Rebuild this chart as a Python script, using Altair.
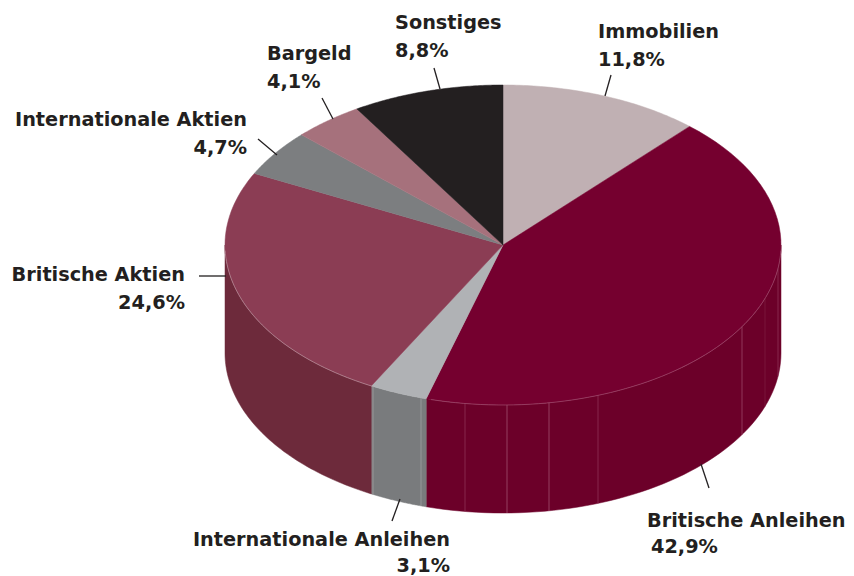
import math
import altair as alt

# Chart values (drawn slice sizes; labels carry the printed figures)
names = ["Immobilien", "Britische Anleihen", "Internationale Anleihen", "Britische Aktien",
         "Internationale Aktien", "Bargeld", "Sonstiges"]
shares = [11.7, 42.7, 3.4, 24.5, 4.7, 4.1, 8.8]
top_colors = ["#c0b0b3", "#75002f", "#b0b2b5", "#8b3d54", "#7c7e80", "#a6717c", "#231f20"]
side_colors = ["#c0b0b3", "#6c0029", "#797b7d", "#6d2a3b", "#7c7e80", "#a6717c", "#231f20"]

# Layout (pixels on the page, relative to the pie centre once CX/CY are removed)
CX, CY, RX, RY, DEPTH = 503, 245, 278, 160, 108
facet_xs = [373, 421, 465, 507, 549, 598, 742, 765, 778]
facet_colors = ["#a9a0a3", "#a3a5a7", "#93385c", "#a8597a", "#a8597a", "#93385c", "#a04e70", "#7f1c44", "#93385c"]
leaders = [((605, 96), (611, 75)), ((440, 89), (434, 68)), ((333, 119), (322, 98)),
           ((277, 155), (258, 139)), ((226, 276), (199, 276)), ((400, 499), (392, 521)),
           ((701, 464), (709, 488))]
label_layout = {
    "left": [("Immobilien", 598, 38), ("11,8%", 598, 66), ("Sonstiges", 395, 29), ("8,8%", 395, 57),
             ("Bargeld", 267, 60), ("4,1%", 267, 88), ("Britische Anleihen", 647, 527), ("42,9%", 651, 553)],
    "right": [("Internationale Aktien", 247, 126), ("4,7%", 247, 154), ("Britische Aktien", 185, 281),
              ("24,6%", 185, 309), ("Internationale Anleihen", 450, 546), ("3,1%", 450, 572)],
}
FONT = "DejaVu Sans"
FONT_SIZE = 19.3


def pt(t, dy=0):
    return [RX * math.sin(t), -RY * math.cos(t) + dy]


def feature(geom_type, coords, color):
    return {"type": "Feature", "properties": {"color": color},
            "geometry": {"type": geom_type, "coordinates": coords}}


def arc(t1, t2, dy=0, n=60):
    return [pt(t1 + (t2 - t1) * i / n, dy) for i in range(n + 1)]


polys_side, polys_top = [], []
edges = [0.0]
for s in shares:
    edges.append(edges[-1] + s)
total = edges[-1]
for i, (a, b) in enumerate(zip(edges[:-1], edges[1:])):
    t1, t2 = a / total * 2 * math.pi, b / total * 2 * math.pi
    polys_top.append(feature("Polygon", [[[0, 0]] + arc(t1, t2) + [[0, 0]]], top_colors[i]))
    v1, v2 = max(t1, math.pi / 2), min(t2, 3 * math.pi / 2)
    if v1 < v2:
        ring = arc(v1, v2) + arc(v2, v1, DEPTH)
        ring.append(ring[0])
        polys_side.append(feature("Polygon", [ring], side_colors[i]))

lines = []
for x, c in zip(facet_xs, facet_colors):
    dx = x - CX
    y = RY * math.sqrt(1 - (dx / RX) ** 2)
    lines.append(feature("LineString", [[dx, y], [dx, y + DEPTH]], c))
lines.append(feature("LineString", arc(math.radians(92), math.radians(195)), "#a04e70"))
lines.append(feature("LineString", arc(math.radians(208), math.radians(268)), "#b9909c"))
thin = lines
leader_lines = [feature("LineString", [[p[0] - CX, p[1] - CY], [q[0] - CX, q[1] - CY]], "#231f20")
                for p, q in leaders]

fill = alt.Fill("properties.color:N", scale=None, legend=None)
stroke = alt.Stroke("properties.color:N", scale=None, legend=None)


def shapes(feats, width, filled=True):
    mark = alt.Chart(alt.Data(values=feats)).mark_geoshape(filled=filled, strokeWidth=width)
    return mark.encode(stroke=stroke, fill=fill) if filled else mark.encode(stroke=stroke)


layers = [shapes(polys_side, 0.5), shapes(polys_top, 0.5), shapes(thin, 0.7, False), shapes(leader_lines, 1.3, False)]
for align, rows in label_layout.items():
    vals = [{"t": t, "lon": x - CX, "lat": y - CY} for t, x, y in rows]
    layers.append(
        alt.Chart(alt.Data(values=vals)).mark_text(
            align=align, baseline="alphabetic", font=FONT, fontWeight="bold",
            fontSize=FONT_SIZE, color="#231f20"
        ).encode(longitude="lon:Q", latitude="lat:Q", text="t:N")
    )

chart = alt.layer(*layers).project(
    type="identity", scale=1, translate=[CX - 8, CY - 8]
).properties(width=838, height=568, padding=0).configure_view(stroke=None)

chart.save("out.html", embed_options={"renderer": "svg", "actions": False})
